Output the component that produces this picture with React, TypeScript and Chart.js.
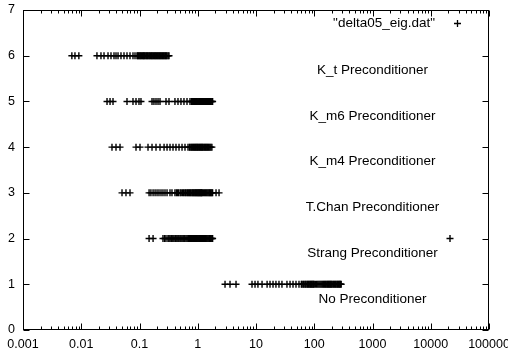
import React, { useEffect, useRef } from "react";
import { Chart, registerables } from "chart.js";

Chart.register(...registerables);

const FONT = '"Liberation Sans", Arial, Helvetica, sans-serif';

// ---- data ----
const seriesName = '"delta05_eig.dat"';
const categories = [
  "No Preconditioner",
  "Strang Preconditioner",
  "T.Chan Preconditioner",
  "K_m4 Preconditioner",
  "K_m6 Preconditioner",
  "K_t Preconditioner",
];
const levels = [1, 2, 3, 4, 5, 6];

const noPreconditioner = [
  2.94, 3.58, 4.54, 8.54, 9.62, 10.8, 12.7, 15.5, 17.4, 19.6, 22.0, 24.8, 27.9, 34.0, 38.4,
  43.2, 48.6, 54.7, 60, 62, 65, 67, 70, 72, 75, 77, 80, 82, 85, 87, 90, 92, 95, 97, 100, 105,
  110, 115, 120, 125, 130, 135, 140, 145, 150, 155, 160, 165, 170, 175, 180, 185, 190, 195,
  200, 208, 215, 222, 230, 237, 245, 252, 260, 268, 275, 282, 290,
];
const strang = [
  0.146, 0.171, 0.253, 0.27, 0.285, 0.308, 0.32, 0.334, 0.35, 0.361, 0.375, 0.391, 0.41,
  0.423, 0.44, 0.458, 0.475, 0.496, 0.515, 0.537, 0.56, 0.58, 0.6, 0.628, 0.655, 0.68, 0.7,
  0.72, 0.75, 0.78, 0.8, 0.82, 0.85, 0.88, 0.9, 0.92, 0.95, 0.97, 1.0, 1.02, 1.05, 1.07, 1.1,
  1.12, 1.15, 1.17, 1.2, 1.25, 1.3, 1.35, 1.4, 1.45, 1.5, 1.55, 1.6, 1.65, 1.7, 1.75, 1.8,
  21400,
];
const tChan = [
  0.0501, 0.0586, 0.0687, 0.146, 0.157, 0.171, 0.185, 0.2, 0.216, 0.234, 0.253, 0.274, 0.297,
  0.334, 0.361, 0.406, 0.43, 0.45, 0.47, 0.5, 0.52, 0.55, 0.57, 0.6, 0.62, 0.65, 0.67, 0.7,
  0.72, 0.75, 0.77, 0.8, 0.82, 0.85, 0.87, 0.9, 0.92, 0.95, 0.97, 1.0, 1.02, 1.05, 1.07, 1.1,
  1.12, 1.15, 1.17, 1.2, 1.25, 1.3, 1.35, 1.4, 1.45, 1.5, 1.55, 1.6, 1.65, 1.7, 1.75, 1.8,
  2.06, 2.32,
];
const kM4 = [
  0.0337, 0.0395, 0.0463, 0.0871, 0.102, 0.14, 0.164, 0.192, 0.225, 0.264, 0.297, 0.334, 0.376,
  0.423, 0.477, 0.537, 0.604, 0.68, 0.72, 0.74, 0.77, 0.79, 0.82, 0.84, 0.87, 0.89, 0.92, 0.94,
  0.97, 0.99, 1.02, 1.05, 1.08, 1.11, 1.14, 1.17, 1.2, 1.23, 1.27, 1.31, 1.35, 1.39, 1.43,
  1.47, 1.52, 1.57, 1.62, 1.68, 1.75,
];
const kM6 = [
  0.0277, 0.0312, 0.0351, 0.061, 0.0773, 0.0871, 0.098, 0.106, 0.164, 0.177, 0.192, 0.208,
  0.225, 0.285, 0.321, 0.406, 0.458, 0.515, 0.58, 0.654, 0.736, 0.78, 0.8, 0.82, 0.84, 0.86,
  0.88, 0.9, 0.92, 0.95, 0.97, 1.0, 1.02, 1.05, 1.07, 1.1, 1.12, 1.15, 1.17, 1.2, 1.23, 1.26,
  1.29, 1.32, 1.35, 1.38, 1.41, 1.45, 1.48, 1.52, 1.56, 1.6, 1.65, 1.7, 1.75, 1.8,
];
const kT = [
  0.0069, 0.0078, 0.0091, 0.0186, 0.0218, 0.0246, 0.0288, 0.0324, 0.0365, 0.0395, 0.0428,
  0.0481, 0.0542, 0.061, 0.0687, 0.0773, 0.0837, 0.0906, 0.093, 0.096, 0.099, 0.102, 0.105,
  0.108, 0.112, 0.115, 0.118, 0.121, 0.125, 0.129, 0.133, 0.137, 0.141, 0.146, 0.15, 0.155,
  0.16, 0.164, 0.169, 0.174, 0.18, 0.185, 0.19, 0.196, 0.202, 0.208, 0.214, 0.221, 0.227,
  0.234, 0.241, 0.249, 0.256, 0.264, 0.272, 0.28, 0.288, 0.297, 0.31, 0.321,
];
const rows = [noPreconditioner, strang, tChan, kM4, kM6, kT];

const xTickValues = [0.001, 0.01, 0.1, 1, 10, 100, 1000, 10000, 100000];
const xTickLabels = ["0.001", "0.01", "0.1", "1", "10", "100", "1000", "10000", "100000"];
const yTickValues = [0, 1, 2, 3, 4, 5, 6, 7];
const labelX = 1000;
const labelOffset = 0.32;

function drawCross(ctx: CanvasRenderingContext2D, x: number, y: number, r: number) {
  ctx.beginPath();
  ctx.moveTo(x - r, y);
  ctx.lineTo(x + r, y);
  ctx.moveTo(x, y - r);
  ctx.lineTo(x, y + r);
  ctx.stroke();
}

const framePlugin = {
  id: "gnuFrame",
  afterDraw(chart: any) {
    const { ctx, chartArea: a, scales } = chart;
    const xs = scales.x;
    const ys = scales.y;
    const L = Math.round(a.left) + 0.5;
    const R = Math.round(a.right) - 0.5;
    const T = Math.round(a.top) + 0.5;
    const B = Math.round(a.bottom) - 0.5;
    ctx.save();
    ctx.strokeStyle = "#000";
    ctx.lineWidth = 1;
    ctx.strokeRect(L, T, R - L, B - T);
    ctx.beginPath();
    yTickValues.forEach((v) => {
      const py = Math.round(ys.getPixelForValue(v)) + 0.5;
      ctx.moveTo(L, py);
      ctx.lineTo(L + 6, py);
      ctx.moveTo(R, py);
      ctx.lineTo(R - 6, py);
    });
    xTickValues.forEach((v, i) => {
      const px = Math.round(xs.getPixelForValue(v)) + 0.5;
      ctx.moveTo(px, B);
      ctx.lineTo(px, B - 6);
      ctx.moveTo(px, T);
      ctx.lineTo(px, T + 6);
      if (i < xTickValues.length - 1) {
        for (let k = 2; k <= 9; k++) {
          const mx = Math.round(xs.getPixelForValue(v * k)) + 0.5;
          ctx.moveTo(mx, B);
          ctx.lineTo(mx, B - 3);
          ctx.moveTo(mx, T);
          ctx.lineTo(mx, T + 3);
        }
      }
    });
    ctx.stroke();

    ctx.fillStyle = "#000";
    ctx.font = `13.5px ${FONT}`;
    ctx.textAlign = "center";
    ctx.textBaseline = "middle";
    categories.forEach((c, i) => {
      ctx.fillText(c, xs.getPixelForValue(labelX), ys.getPixelForValue(levels[i] - labelOffset));
    });

    const ly = a.top + 13;
    ctx.textAlign = "right";
    ctx.fillText(seriesName, a.right - 54, ly);
    ctx.lineWidth = 1.3;
    drawCross(ctx, Math.round(a.right - 32) + 0.5, Math.round(ly) + 0.5, 3.5);
    ctx.restore();
  },
};

export default function App() {
  const ref = useRef<HTMLCanvasElement | null>(null);
  useEffect(() => {
    if (!ref.current) return;
    const data: { x: number; y: number }[] = [];
    rows.forEach((r, i) => r.forEach((v) => data.push({ x: v, y: levels[i] })));
    const chart = new Chart(ref.current, {
      type: "scatter",
      data: {
        datasets: [
          {
            label: seriesName,
            data,
            pointStyle: "cross",
            pointRadius: 3.5,
            pointBorderWidth: 1.4,
            borderColor: "#000",
            backgroundColor: "#000",
            showLine: false,
          },
        ],
      },
      options: {
        animation: false,
        responsive: true,
        maintainAspectRatio: false,
        layout: { padding: { left: 0, top: 10, right: 19, bottom: 0 } },
        plugins: { legend: { display: false }, tooltip: { enabled: false } },
        scales: {
          x: {
            type: "logarithmic",
            min: 0.001,
            max: 100000,
            afterBuildTicks: (s: any) => {
              s.ticks = xTickValues.map((v) => ({ value: v }));
            },
            afterFit: (s: any) => {
              s.height = 22;
              s.paddingLeft = 0;
              s.paddingRight = 0;
            },
            ticks: {
              callback: (_v: any, i: number) => xTickLabels[i],
              autoSkip: false,
              maxRotation: 0,
              minRotation: 0,
              padding: 7,
              color: "#000",
              font: { family: FONT, size: 12.5 },
            },
            grid: { display: false, drawTicks: false },
            border: { display: false },
          },
          y: {
            min: 0,
            max: 7,
            afterBuildTicks: (s: any) => {
              s.ticks = yTickValues.map((v) => ({ value: v }));
            },
            afterFit: (s: any) => {
              s.width = 23;
              s.paddingTop = 0;
              s.paddingBottom = 0;
            },
            ticks: {
              callback: (v: any) => String(v),
              padding: 8,
              color: "#000",
              font: { family: FONT, size: 12.5 },
            },
            grid: { display: false, drawTicks: false },
            border: { display: false },
          },
        },
      },
      plugins: [framePlugin],
    });
    return () => chart.destroy();
  }, []);
  return (
    <div style={{ position: "fixed", left: 0, top: 0, width: 508, height: 352, background: "#fff" }}>
      <canvas ref={ref} />
    </div>
  );
}
